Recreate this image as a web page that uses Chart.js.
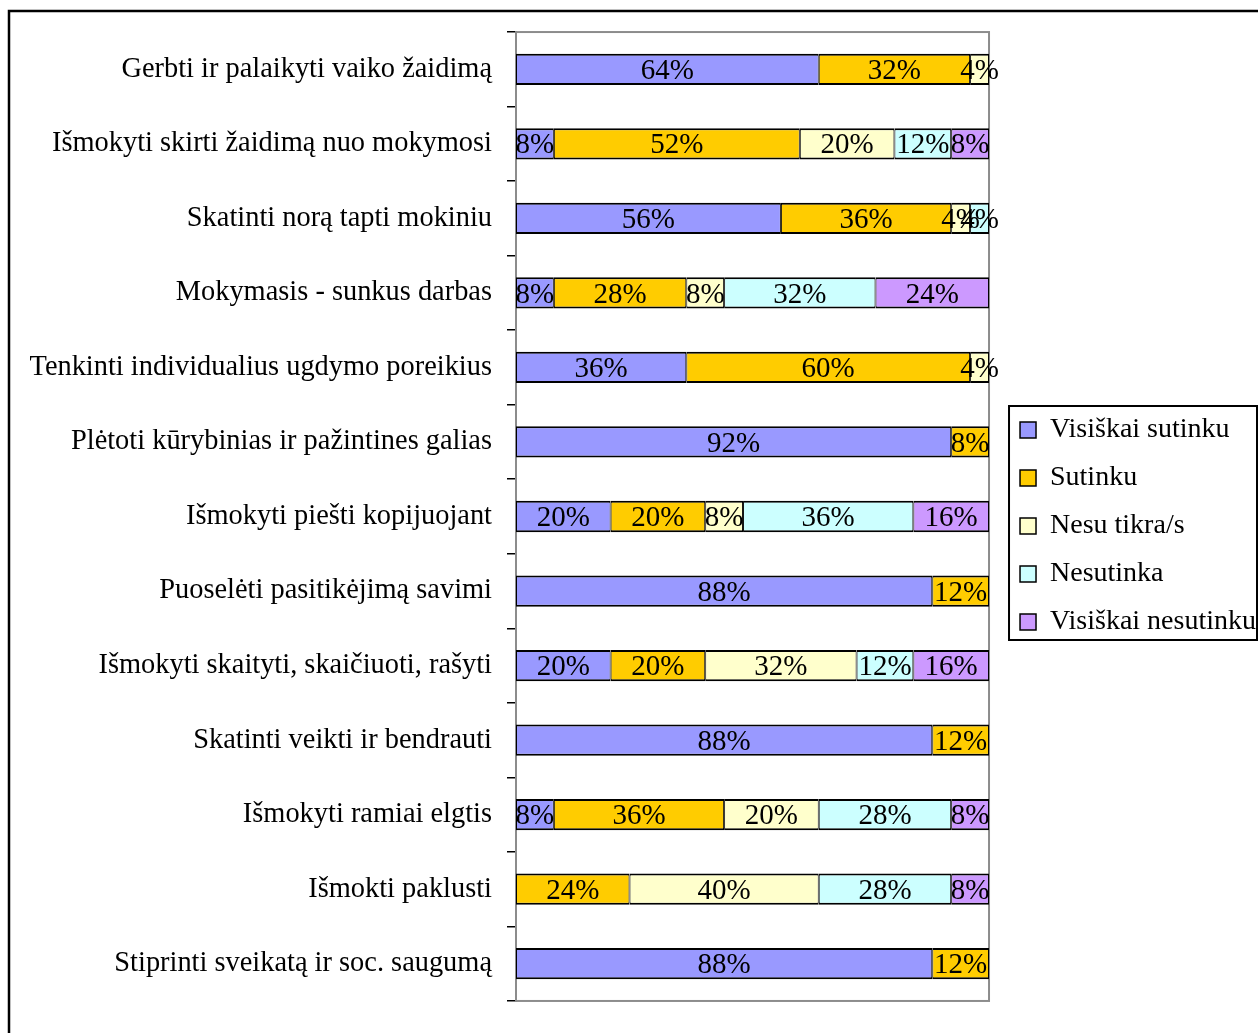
<!DOCTYPE html>
<html>
<head>
<meta charset="utf-8">
<script src="https://cdn.jsdelivr.net/npm/chart.js@4.4.0/dist/chart.umd.min.js"></script>
<style>
  html, body { margin: 0; padding: 0; background: #fff; }
  canvas { display: block; }
</style>
</head>
<body>
<canvas id="chart" width="1258" height="1033"></canvas>
<script>
const categories = [
    "Gerbti ir palaikyti vaiko žaidimą",
    "Išmokyti skirti žaidimą nuo mokymosi",
    "Skatinti norą tapti mokiniu",
    "Mokymasis - sunkus darbas",
    "Tenkinti individualius ugdymo poreikius",
    "Plėtoti kūrybinias ir pažintines galias",
    "Išmokyti piešti kopijuojant",
    "Puoselėti pasitikėjimą savimi",
    "Išmokyti skaityti, skaičiuoti, rašyti",
    "Skatinti veikti ir bendrauti",
    "Išmokyti ramiai elgtis",
    "Išmokti paklusti",
    "Stiprinti sveikatą ir soc. saugumą"
];

const seriesNames = ["Visiškai sutinku", "Sutinku", "Nesu tikra/s", "Nesutinka", "Visiškai nesutinku"];
const seriesColors = ["#9999FF", "#FFCC00", "#FFFFCC", "#CCFFFF", "#CC99FF"];

const visiskaiSutinku   = [64,  8, 56,  8, 36, 92, 20, 88, 20, 88,  8,  0, 88];
const sutinku           = [32, 52, 36, 28, 60,  8, 20, 12, 20, 12, 36, 24, 12];
const nesuTikra         = [ 4, 20,  4,  8,  4,  0,  8,  0, 32,  0, 20, 40,  0];
const nesutinka         = [ 0, 12,  4, 32,  0,  0, 36,  0, 12,  0, 28, 28,  0];
const visiskaiNesutinku = [ 0,  8,  0, 24,  0,  0, 16,  0, 16,  0,  8,  8,  0];

const seriesValues = [visiskaiSutinku, sutinku, nesuTikra, nesutinka, visiskaiNesutinku];

const FONT = '"Liberation Serif", "Times New Roman", serif';

/* outer frame (top + left edge of the picture) */
const framePlugin = {
    id: "frame",
    beforeDraw(chart) {
        const ctx = chart.ctx;
        ctx.save();
        ctx.fillStyle = "#fff";
        ctx.fillRect(0, 0, chart.width, chart.height);
        ctx.strokeStyle = "#000";
        ctx.lineWidth = 2.5;
        ctx.beginPath();
        ctx.moveTo(9, chart.height);
        ctx.lineTo(9, 11);
        ctx.lineTo(chart.width, 11);
        ctx.stroke();
        ctx.restore();
    }
};

/* grey plot area border */
const plotBorder = {
    id: "plotBorder",
    beforeDatasetsDraw(chart) {
        const { ctx, chartArea: a } = chart;
        ctx.save();
        ctx.strokeStyle = "#8c8c8c";
        ctx.lineWidth = 2;
        ctx.strokeRect(a.left, a.top, a.right - a.left, a.bottom - a.top);
        ctx.restore();
    }
};

/* percent labels in the middle of each segment */
const segmentLabels = {
    id: "segmentLabels",
    afterDatasetsDraw(chart) {
        const ctx = chart.ctx;
        ctx.save();
        ctx.font = "29px " + FONT;
        ctx.fillStyle = "#000";
        ctx.textAlign = "center";
        ctx.textBaseline = "middle";
        chart.data.datasets.forEach((ds, i) => {
            chart.getDatasetMeta(i).data.forEach((bar, j) => {
                const v = ds.data[j];
                if (!v) return;
                ctx.fillText(v + "%", (bar.x + bar.base) / 2, bar.y + 2);
            });
        });
        ctx.restore();
    }
};

/* box around the legend */
const legendBox = {
    id: "legendBox",
    afterDraw(chart) {
        const lg = chart.legend;
        const hb = lg.legendHitBoxes;
        if (!hb || !hb.length) return;
        const last = hb[hb.length - 1];
        const top = hb[0].top - 10;
        const bottom = last.top + last.height + 4;
        const ctx = chart.ctx;
        ctx.save();
        ctx.strokeStyle = "#000";
        ctx.lineWidth = 2;
        ctx.strokeRect(lg.left + 9, top, chart.width - 1 - (lg.left + 9), bottom - top);
        ctx.restore();
    }
};

const chart = new Chart(document.getElementById("chart").getContext("2d"), {
    type: "bar",
    data: {
        labels: categories,
        datasets: seriesNames.map((name, i) => ({
            label: name,
            data: seriesValues[i].map(v => v || null),
            backgroundColor: seriesColors[i],
            borderColor: "#000",
            borderWidth: { top: 2, bottom: 2, left: 1, right: 1 },
            borderSkipped: false,
            barPercentage: 0.42,
            categoryPercentage: 1
        }))
    },
    options: {
        indexAxis: "y",
        responsive: false,
        animation: false,
        devicePixelRatio: 1,
        layout: { padding: { top: 32, bottom: 13, left: 0, right: -8 } },
        plugins: {
            legend: {
                position: "right",
                maxWidth: 400,
                labels: {
                    font: { family: FONT, size: 28 },
                    color: "#000",
                    boxWidth: 16,
                    boxHeight: 16,
                    padding: 20
                }
            },
            tooltip: { enabled: false }
        },
        scales: {
            x: {
                stacked: true,
                min: 0,
                max: 100,
                display: false
            },
            y: {
                stacked: true,
                ticks: {
                    font: { family: FONT, size: 28.4 },
                    color: "#000",
                    padding: 15
                },
                grid: {
                    drawOnChartArea: false,
                    tickLength: 9,
                    color: "#000",
                    lineWidth: 1.5,
                    offset: true
                },
                border: { color: "#000", width: 2 },
                afterFit(s) { s.width = 516; }
            },
            gap: {
                type: "linear",
                position: "right",
                display: true,
                grid: { display: false },
                border: { display: false },
                ticks: { display: false },
                afterFit(s) { s.width = 11; }
            }
        }
    },
    plugins: [framePlugin, plotBorder, segmentLabels, legendBox]
});
</script>
</body>
</html>
